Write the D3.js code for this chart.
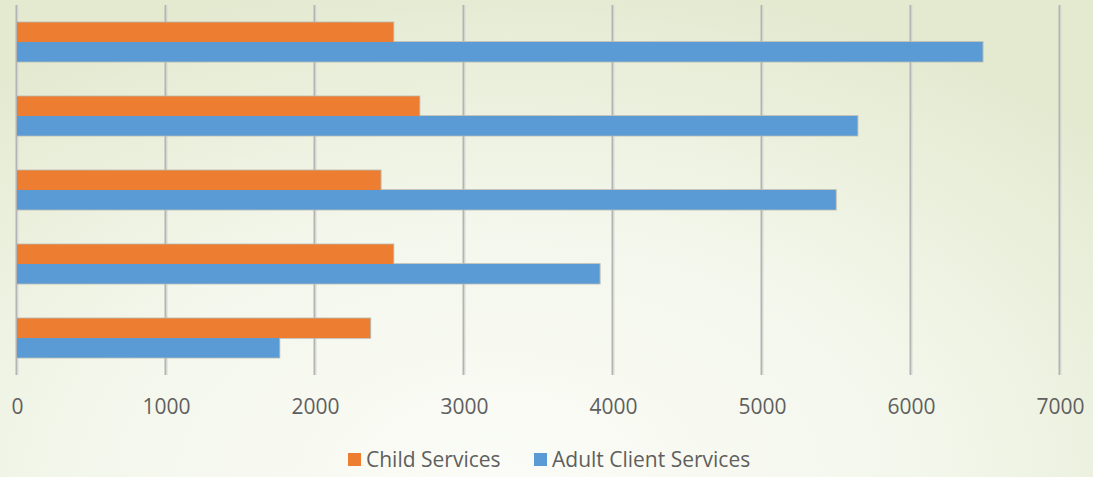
<!DOCTYPE html>
<html>
<head>
<meta charset="utf-8">
<script src="https://cdn.jsdelivr.net/npm/d3@7/dist/d3.min.js"></script>
<style>
  html, body { margin: 0; padding: 0; }
  body { width: 1093px; height: 477px; overflow: hidden; }
  svg { display: block; }
  text { font-family: "Open Sans", "DejaVu Sans", sans-serif; fill: #5f5f5f; }
</style>
</head>
<body>
<svg id="chart" width="1093" height="477"></svg>
<script>
// Service groups, listed top to bottom
const categories = ["Group 1", "Group 2", "Group 3", "Group 4", "Group 5"];
const seriesNames = ["Child Services", "Adult Client Services"];
const childServices = [2525, 2700, 2440, 2525, 2370];
const adultClientServices = [6480, 5640, 5495, 3910, 1760];
const tickValues = [0, 1000, 2000, 3000, 4000, 5000, 6000, 7000];
const seriesColors = ["#ED7D31", "#5B9BD5"];

const W = 1093, H = 477;
const plot = { left: 17, right: 1060, top: 5, bottom: 375 };

const svg = d3.select("#chart");

// Soft pale-green backdrop, lightest along the bottom middle
const defs = svg.append("defs");
const bg = defs.append("radialGradient")
  .attr("id", "bg").attr("gradientUnits", "userSpaceOnUse")
  .attr("cx", 500).attr("cy", 480).attr("r", 820)
  .attr("gradientTransform", "translate(500,480) scale(1,0.62) translate(-500,-480)");
bg.append("stop").attr("offset", "0%").attr("stop-color", "#fbfcf7");
bg.append("stop").attr("offset", "50%").attr("stop-color", "#f4f7ec");
bg.append("stop").attr("offset", "100%").attr("stop-color", "#e3ead0");
svg.append("rect").attr("width", W).attr("height", H).attr("fill", "url(#bg)");

const x = d3.scaleLinear().domain([0, 7000]).range([plot.left, plot.right]);
const y = d3.scaleBand().domain(categories)
  .range([plot.top, plot.bottom]).paddingInner(0.47).paddingOuter(0.235);
const ySeries = d3.scaleBand().domain(seriesNames).range([0, y.bandwidth()]);

// Vertical gridlines
const grid = svg.append("g");
grid.selectAll("line.g1").data(tickValues).join("line")
  .attr("x1", d => x(d) - 0.5).attr("x2", d => x(d) - 0.5)
  .attr("y1", plot.top).attr("y2", plot.bottom)
  .attr("stroke", "#b4b4b4").attr("stroke-width", 2);
grid.selectAll("line.g2").data(tickValues).join("line")
  .attr("x1", d => x(d) + 1).attr("x2", d => x(d) + 1)
  .attr("y1", plot.top).attr("y2", plot.bottom)
  .attr("stroke", "#d9d9d6").attr("stroke-width", 1);

// Bars
const rows = categories.map((c, i) => ({
  category: c,
  values: [
    { series: seriesNames[0], value: childServices[i], color: seriesColors[0] },
    { series: seriesNames[1], value: adultClientServices[i], color: seriesColors[1] }
  ]
}));

const groups = svg.append("g").selectAll("g").data(rows).join("g")
  .attr("transform", d => `translate(0,${y(d.category)})`);

// faint edge behind each bar
groups.selectAll("rect.edge").data(d => d.values).join("rect")
  .attr("class", "edge")
  .attr("x", x(0)).attr("y", d => ySeries(d.series) - 0.8)
  .attr("width", d => x(d.value) - x(0) + 1)
  .attr("height", ySeries.bandwidth() + 1.6)
  .attr("fill", "#b9bab2");

groups.selectAll("rect.bar").data(d => d.values).join("rect")
  .attr("class", "bar")
  .attr("x", x(0)).attr("y", d => ySeries(d.series))
  .attr("width", d => x(d.value) - x(0))
  .attr("height", ySeries.bandwidth())
  .attr("fill", d => d.color);

// Value axis labels
const axis = svg.append("g")
  .attr("transform", `translate(0,${plot.bottom})`)
  .call(d3.axisBottom(x).tickValues(tickValues).tickSize(0).tickFormat(d3.format("d")));
axis.select(".domain").remove();
axis.selectAll("text")
  .attr("y", 38.5).attr("dy", 0)
  .style("font-size", "21px").style("font-family", "Open Sans, sans-serif")
  .attr("fill", "#5f5f5f");

// Legend
const legend = svg.append("g");
const legendItems = [
  { name: seriesNames[0], color: seriesColors[0], x: 348 },
  { name: seriesNames[1], color: seriesColors[1], x: 534 }
];
const li = legend.selectAll("g").data(legendItems).join("g")
  .attr("transform", d => `translate(${d.x},0)`);
li.append("rect").attr("x", 0).attr("y", 453).attr("width", 13).attr("height", 13)
  .attr("fill", d => d.color);
li.append("text").attr("x", 18).attr("y", 467)
  .style("font-size", "21px")
  .text(d => d.name);
</script>
</body>
</html>
